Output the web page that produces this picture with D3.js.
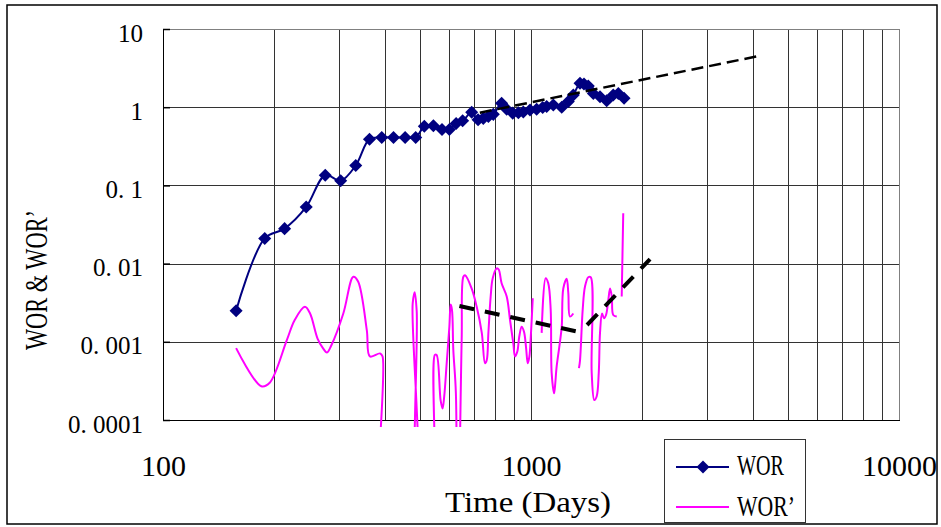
<!DOCTYPE html>
<html>
<head>
<meta charset="utf-8">
<script src="https://cdn.jsdelivr.net/npm/d3@7/dist/d3.min.js"></script>
<style>
  body { margin: 0; background: #fff; }
  svg text { font-family: "Liberation Serif", "DejaVu Serif", serif; fill: #000; }
</style>
</head>
<body>
<div id="chart"></div>
<script>
const width = 941;
const height = 527;

// WOR (diamonds)
const worDays = [158, 189, 214, 245, 276, 304, 334, 364, 393, 423, 455, 486, 513, 543, 573, 600, 626, 652, 690, 718,
  742, 766, 790, 832, 859, 892, 924, 953, 994, 1036, 1076, 1103, 1150, 1212, 1263, 1303, 1359, 1393, 1431, 1477,
  1540, 1606, 1673, 1727, 1790];
const worValues = [0.0025, 0.021, 0.028, 0.053, 0.135, 0.115, 0.18, 0.39, 0.41, 0.41, 0.41, 0.41, 0.57, 0.58, 0.52, 0.52, 0.62, 0.67, 0.86, 0.69,
  0.72, 0.76, 0.81, 1.12, 0.94, 0.84, 0.85, 0.87, 0.92, 0.94, 0.99, 1.02, 1.07, 1.0, 1.18, 1.43, 2.02, 1.98, 1.87, 1.5,
  1.36, 1.21, 1.43, 1.5, 1.3];

// WOR' (derivative) - null = blank cell, 0.000001 = far below the axis
const worpDays = [158, 185, 195, 217, 228, 243, 251, 263, 272, 279, 287, 309, 329, 339, 358, 365, 389, 395, 401, 469,
  477, 483, 489, 502, 533, 548, 554, 568, 575, 581, 590, 600, 605, 610, 615, 625, 631, 648, 655, 662,
  690, 712, 735, 750, 758, 766, 777, 787, 807, 817, 832, 859, 877, 895, 905, 918, 929, 943, 957, 969,
  980, 990, 1000, 1011, 1040, 1069, 1096, 1114, 1131, 1138, 1155, 1162, 1174, 1194, 1212, 1224, 1250, 1263, 1276, 1303,
  1325, 1350, 1359, 1382, 1402, 1431, 1453, 1462, 1486, 1508, 1528, 1540, 1560, 1579, 1599, 1622, 1640, 1658, 1673, 1710,
  1737, 1764, 1781];
const worpValues = [0.00083, 0.00027, 0.0003, 0.00105, 0.0019, 0.0028, 0.0023, 0.0011, 0.00083, 0.00073, 0.00091, 0.0023, 0.0068, 0.0059, 0.0014, 0.00065, 0.00071, 0.00065, 0.000001, 0.000001,
  0.0031, 0.0043, 0.0025, 0.000001, 0.000001, 0.00068, 0.00068, 0.00018, 0.00014, 0.0002, 0.00053, 0.00156, 0.003, 0.00255, 0.00079, 0.00022, 0.000001, 0.00105, 0.0068, 0.0071,
  0.0048, 0.0028, 0.0013, 0.00053, 0.00058, 0.0013, 0.0038, 0.0065, 0.0087, 0.0084, 0.0056, 0.0038, 0.0019, 0.00096, 0.00065, 0.00075, 0.00116, 0.00156, 0.00135, 0.00087,
  0.00053, 0.00065, 0.0013, 0.0036, null, 0.0013, 0.0065, 0.0056, 0.0026, 0.0004, 0.00022, 0.00027, 0.00048, 0.00087, 0.00156, 0.0048, 0.0064, 0.0042, 0.0021, 0.0023,
  null, 0.00046, 0.00058, 0.0026, 0.0051, 0.0067, 0.0067, 0.0004, 0.00018, 0.0002, 0.0004, 0.0013, 0.0023, 0.002, 0.0022, 0.0034, 0.0048, 0.0038, 0.0022, 0.0021,
  null, 0.0038, 0.044];

// hand drawn trend lines
const trendWorDays = [726, 4166];
const trendWorValues = [0.85, 4.52];
const trendFallDays = [639, 1376];
const trendFallValues = [0.00287, 0.00131];
const trendRiseDays = [1420, 2106];
const trendRiseValues = [0.00164, 0.0114];

const yTicks = [0.0001, 0.001, 0.01, 0.1, 1, 10];
const yTickLabels = ["0. 0001", "0. 001", "0. 01", "0. 1", "1", "10"];
const xTicks = [100, 1000, 10000];
const xTickLabels = ["100", "1000", "10000"];

const plot = { left: 163, right: 899, top: 29, bottom: 420 };

const svg = d3.select("#chart").append("svg")
  .attr("width", width)
  .attr("height", height);

svg.append("rect")
  .attr("x", 7).attr("y", 5)
  .attr("width", 930).attr("height", 519)
  .attr("fill", "#fff")
  .attr("stroke", "#000")
  .attr("stroke-width", 1.5);

const x = d3.scaleLog().domain([100, 10000]).range([plot.left, plot.right]);
const y = d3.scaleLog().domain([0.0001, 10]).range([plot.bottom, plot.top]);

// grid
svg.append("g")
  .attr("transform", `translate(0,${plot.bottom})`)
  .call(d3.axisBottom(x).tickValues(x.ticks()).tickSize(-(plot.bottom - plot.top)).tickFormat(""))
  .call(g => g.select(".domain").remove())
  .call(g => g.selectAll("line").attr("stroke", "#333").attr("shape-rendering", "crispEdges"));

svg.append("g")
  .attr("transform", `translate(${plot.left},0)`)
  .call(d3.axisLeft(y).tickValues(yTicks).tickSize(-(plot.right - plot.left)).tickFormat(""))
  .call(g => g.select(".domain").remove())
  .call(g => g.selectAll("line").attr("stroke", "#333").attr("shape-rendering", "crispEdges"));

// frame
svg.append("rect")
  .attr("x", plot.left).attr("y", plot.top)
  .attr("width", plot.right - plot.left).attr("height", plot.bottom - plot.top)
  .attr("fill", "none").attr("stroke", "#808080")
  .attr("shape-rendering", "crispEdges");

// y axis with labels
svg.append("g")
  .attr("transform", `translate(${plot.left},0)`)
  .call(d3.axisLeft(y).tickValues(yTicks).tickSize(-7).tickPadding(20)
    .tickFormat((d, i) => yTickLabels[i]))
  .call(g => g.select(".domain").attr("stroke", "#000").attr("shape-rendering", "crispEdges"))
  .call(g => g.selectAll("line").attr("stroke", "#000").attr("stroke-width", 1.5))
  .call(g => g.selectAll("text")
    .attr("dy", 12)
    .attr("xml:space", "preserve")
    .style("font-size", "25px")
    .style("font-family", "'Liberation Serif', serif"));

// x axis with labels
svg.append("g")
  .attr("transform", `translate(0,${plot.bottom})`)
  .call(d3.axisBottom(x).tickValues(xTicks).tickSize(0)
    .tickFormat((d, i) => xTickLabels[i]))
  .call(g => g.select(".domain").attr("stroke", "#000").attr("shape-rendering", "crispEdges"))
  .call(g => g.selectAll("text")
    .attr("y", 56).attr("dy", null)
    .style("font-size", "30px")
    .style("font-family", "'Liberation Serif', serif"));

svg.append("text")
  .attr("x", 528).attr("y", 512)
  .attr("text-anchor", "middle")
  .attr("textLength", 166).attr("lengthAdjust", "spacingAndGlyphs")
  .style("font-size", "30px")
  .text("Time (Days)");

svg.append("text")
  .attr("transform", "translate(47,280) rotate(-90)")
  .attr("text-anchor", "middle")
  .attr("textLength", 140).attr("lengthAdjust", "spacingAndGlyphs")
  .style("font-size", "31px")
  .text("WOR & WOR\u2019");

// series
svg.append("clipPath").attr("id", "clip")
  .append("rect")
  .attr("x", plot.left).attr("y", plot.top)
  .attr("width", plot.right - plot.left).attr("height", plot.bottom - plot.top + 7);

const line = d3.line()
  .defined(d => d[1] != null)
  .x(d => x(d[0]))
  .y(d => y(d[1]))
  .curve(d3.curveCatmullRom.alpha(0.5));

const worpData = worpDays.map((d, i) => [d, worpValues[i]]);
const worData = worDays.map((d, i) => [d, worValues[i]]);

svg.append("path")
  .datum(worpData)
  .attr("clip-path", "url(#clip)")
  .attr("fill", "none")
  .attr("stroke", "#ff00ff")
  .attr("stroke-width", 2)
  .attr("d", line);

svg.append("path")
  .datum(worData)
  .attr("fill", "none")
  .attr("stroke", "#000080")
  .attr("stroke-width", 2)
  .attr("d", line);

const diamond = d3.symbol().type(d3.symbolSquare).size(85);

svg.append("g")
  .selectAll("path")
  .data(worData)
  .enter()
  .append("path")
  .attr("d", diamond)
  .attr("transform", d => `translate(${x(d[0])},${y(d[1])}) rotate(45)`)
  .attr("fill", "#000080");

// trend lines
const straight = d3.line().x(d => x(d[0])).y(d => y(d[1]));

function trend(days, values, w, dash) {
  svg.append("path")
    .datum(days.map((d, i) => [d, values[i]]))
    .attr("fill", "none")
    .attr("stroke", "#000")
    .attr("stroke-width", w)
    .attr("stroke-dasharray", dash)
    .attr("d", straight);
}

trend(trendWorDays, trendWorValues, 2.5, "12,6");
trend(trendFallDays, trendFallValues, 4, "15,11");
trend(trendRiseDays, trendRiseValues, 4, "15,11");

// legend
const legend = svg.append("g").attr("transform", "translate(664,439)");

legend.append("rect")
  .attr("width", 141).attr("height", 83)
  .attr("fill", "#fff")
  .attr("stroke", "#333")
  .attr("shape-rendering", "crispEdges");

legend.append("line")
  .attr("x1", 12).attr("x2", 65).attr("y1", 28).attr("y2", 28)
  .attr("stroke", "#000080").attr("stroke-width", 2);

legend.append("path")
  .attr("d", diamond)
  .attr("transform", "translate(39,28) rotate(45)")
  .attr("fill", "#000080");

legend.append("text")
  .attr("x", 73).attr("y", 36)
  .attr("textLength", 47).attr("lengthAdjust", "spacingAndGlyphs")
  .style("font-size", "30px")
  .text("WOR");

legend.append("line")
  .attr("x1", 12).attr("x2", 65).attr("y1", 68).attr("y2", 68)
  .attr("stroke", "#ff00ff").attr("stroke-width", 2);

legend.append("text")
  .attr("x", 73).attr("y", 77)
  .attr("textLength", 58).attr("lengthAdjust", "spacingAndGlyphs")
  .style("font-size", "30px")
  .text("WOR\u2019");
</script>
</body>
</html>
